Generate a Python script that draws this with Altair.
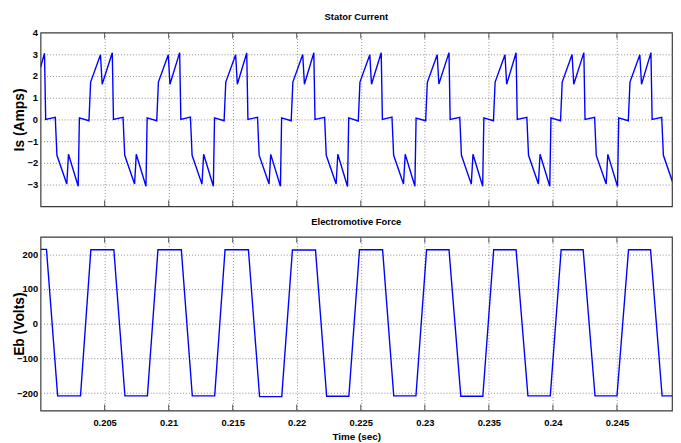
import altair as alt
import pandas as pd

# ---- Stator current: vertices (time s, current A) ----
is_t = [
    0.200000,
    0.200308, 0.200400, 0.201148, 0.201279, 0.202049, 0.202180, 0.202938, 0.203031, 0.203778, 0.203909, 0.204679, 0.204810,
    0.205600, 0.205692, 0.206440, 0.206571, 0.207341, 0.207472, 0.208230, 0.208323, 0.209070, 0.209201, 0.209971, 0.210102,
    0.210860, 0.210952, 0.211700, 0.211831, 0.212601, 0.212732, 0.213490, 0.213583, 0.214330, 0.214461, 0.215231, 0.215362,
    0.216098, 0.216190, 0.216938, 0.217069, 0.217839, 0.217970, 0.218728, 0.218821, 0.219568, 0.219699, 0.220469, 0.220600,
    0.221335, 0.221427, 0.222175, 0.222306, 0.223076, 0.223207, 0.223965, 0.224058, 0.224805, 0.224936, 0.225706, 0.225837,
    0.226596, 0.226688, 0.227436, 0.227567, 0.228337, 0.228468, 0.229226, 0.229319, 0.230066, 0.230197, 0.230967, 0.231098,
    0.231888, 0.231980, 0.232728, 0.232859, 0.233629, 0.233760, 0.234518, 0.234611, 0.235358, 0.235489, 0.236259, 0.236390,
    0.237126, 0.237218, 0.237966, 0.238097, 0.238867, 0.238998, 0.239756, 0.239849, 0.240596, 0.240727, 0.241497, 0.241628,
    0.242417, 0.242509, 0.243257, 0.243388, 0.244158, 0.244289, 0.245047, 0.245140, 0.245887, 0.246018, 0.246788, 0.246919,
    0.247655, 0.247747, 0.248495, 0.248626, 0.249396,
]
is_v = [
    2.40,
    3.05, 0.00, 0.10, -1.65, -2.97, -1.60, -3.08, 0.07, -0.06, 1.72, 2.98, 1.62,
    3.07, 0.00, 0.10, -1.65, -2.97, -1.60, -3.08, 0.07, -0.06, 1.72, 2.98, 1.62,
    3.08, 0.00, 0.11, -1.65, -2.98, -1.60, -3.08, 0.07, -0.06, 1.72, 2.98, 1.62,
    3.06, 0.00, 0.10, -1.66, -2.97, -1.61, -3.08, 0.07, -0.06, 1.72, 2.99, 1.62,
    3.07, 0.00, 0.10, -1.65, -2.97, -1.60, -3.09, 0.07, -0.07, 1.72, 2.98, 1.62,
    3.07, 0.00, 0.11, -1.65, -2.97, -1.60, -3.08, 0.06, -0.06, 1.71, 2.98, 1.63,
    3.08, 0.00, 0.10, -1.65, -2.98, -1.60, -3.08, 0.07, -0.06, 1.72, 2.98, 1.62,
    3.07, 0.00, 0.10, -1.65, -2.97, -1.60, -3.08, 0.07, -0.06, 1.72, 2.99, 1.62,
    3.08, 0.00, 0.10, -1.66, -2.97, -1.61, -3.09, 0.07, -0.06, 1.72, 2.98, 1.62,
    3.08, 0.00, 0.10, -1.65, -2.97,
]

# ---- Electromotive force: trapezoid corners (time s, volts) ----
eb_t = [
    0.200000,
    0.200462, 0.201333, 0.203119, 0.203928,
    0.205723, 0.206586, 0.208342, 0.209166,
    0.210991, 0.211846, 0.213595, 0.214404,
    0.216229, 0.217099, 0.218832, 0.219664,
    0.221467, 0.222337, 0.224070, 0.224902,
    0.226704, 0.227575, 0.229308, 0.230139,
    0.231888, 0.232812, 0.234530, 0.235377,
    0.237126, 0.238050, 0.239798, 0.240646,
    0.242363, 0.243288, 0.245005, 0.245906,
    0.247624, 0.248525, 0.249300,
]
eb_v = [
    214,
    214, -208, -208, 213,
    213, -208, -208, 213,
    213, -208, -208, 213,
    213, -210, -210, 212,
    212, -209, -209, 213,
    213, -208, -208, 213,
    213, -209, -209, 213,
    213, -208, -208, 213,
    213, -208, -208, 213,
    213, -208, -208,
]

x_ticks = [0.205, 0.21, 0.215, 0.22, 0.225, 0.23, 0.235, 0.24, 0.245]
is_ticks = [-3, -2, -1, 0, 1, 2, 3, 4]
eb_ticks = [-200, -100, 0, 100, 200]

FONT = "Liberation Sans, Arial, Helvetica, sans-serif"
W, H = 640, 176
BLUE = "#0000ff"

xscale = alt.Scale(domain=[0.2, 0.2493], nice=False, zero=False)

cur_df = pd.DataFrame({"t": is_t, "v": is_v})
emf_df = pd.DataFrame({"t": eb_t, "v": eb_v})
tick_df = pd.DataFrame({"t": x_ticks})


def inner_ticks():
    top_t = alt.Chart(tick_df).mark_rule(color="#555555", strokeWidth=1).encode(
        x=alt.X("t:Q", scale=xscale), y=alt.value(0), y2=alt.value(6)
    )
    bot_t = alt.Chart(tick_df).mark_rule(color="#555555", strokeWidth=1).encode(
        x=alt.X("t:Q", scale=xscale), y=alt.value(H - 6), y2=alt.value(H)
    )
    return top_t, bot_t


def yaxis(vals, title):
    return alt.Axis(
        values=vals, title=title, ticks=False, domain=False, grid=True,
        labelPadding=3, titleX=-21, titleY=H / 2, titleBaseline="middle",
        titleFont=FONT, titleFontSize=14, titleFontWeight="bold",
    )


def ptitle(text, off):
    return alt.TitleParams(text, font=FONT, fontSize=9.5, fontWeight="bold",
                           color="black", offset=off, anchor="middle", frame="group")


top_line = alt.Chart(cur_df).mark_line(color=BLUE, strokeWidth=1.4, clip=True).encode(
    x=alt.X("t:Q", scale=xscale,
            axis=alt.Axis(values=x_ticks, labels=False, ticks=False, domain=False, title=None, grid=True)),
    y=alt.Y("v:Q", scale=alt.Scale(domain=[-4, 4], nice=False), axis=yaxis(is_ticks, "Is (Amps)")),
)
tt, tb = inner_ticks()
top = alt.layer(top_line, tt, tb).properties(width=W, height=H, title=ptitle("Stator Current", 6))

bot_line = alt.Chart(emf_df).mark_line(color=BLUE, strokeWidth=1.4, clip=True).encode(
    x=alt.X("t:Q", scale=xscale,
            axis=alt.Axis(values=x_ticks, format=".3~f", ticks=False, domain=False, grid=True,
                          labelPadding=7, labelOverlap=False, labelFlush=False,
                          title="Time (sec)", titleFont=FONT, titleFontSize=10, titleFontWeight="bold",
                          titleY=26, titleBaseline="middle")),
    y=alt.Y("v:Q", scale=alt.Scale(domain=[-250, 250], nice=False), axis=yaxis(eb_ticks, "Eb (Volts)")),
)
bt, bb = inner_ticks()
bottom = alt.layer(bot_line, bt, bb).properties(width=W, height=H, title=ptitle("Electromotive Force", 10))

chart = alt.vconcat(top, bottom, spacing=8).properties(
    padding={"left": 4, "top": 0, "right": 0, "bottom": 0},
    background="white",
).configure_view(
    stroke="#3a3a3a", strokeWidth=1.2
).configure_axis(
    gridColor="#8a8a8a", gridDash=[1, 2], gridWidth=1, gridOpacity=1,
    labelFont=FONT, labelFontSize=9.5, labelFontWeight="bold", labelColor="black",
    titleColor="black",
)

chart.save("out.html", embed_options={"renderer": "svg", "actions": False})
